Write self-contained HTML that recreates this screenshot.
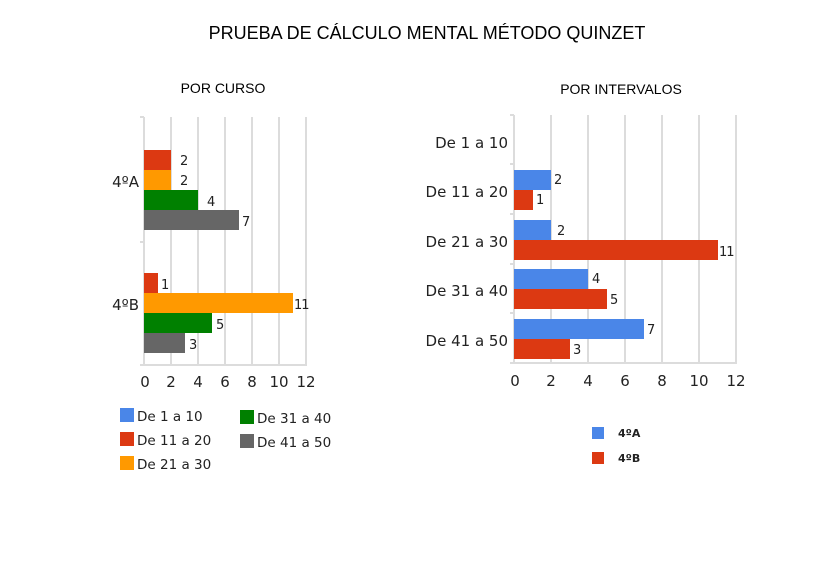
<!DOCTYPE html><html><head><style>body{margin:0;background:#fff}svg{display:block}</style></head><body>
<svg width="814" height="567" xmlns="http://www.w3.org/2000/svg" font-family="'DejaVu Sans','Liberation Sans',sans-serif">
<rect width="814" height="567" fill="#fff"/>
<text x="427" y="39" font-size="18" text-anchor="middle" font-family="'Liberation Sans',sans-serif">PRUEBA DE CÁLCULO MENTAL MÉTODO QUINZET</text>
<text x="223" y="93" font-size="14" text-anchor="middle" font-family="'Liberation Sans',sans-serif">POR CURSO</text>
<text x="621" y="94" font-size="14" text-anchor="middle" font-family="'Liberation Sans',sans-serif">POR INTERVALOS</text>
<g stroke="#dcdcdc" stroke-width="2">
<line x1="171" y1="117" x2="171" y2="365"/><line x1="198" y1="117" x2="198" y2="365"/><line x1="225" y1="117" x2="225" y2="365"/><line x1="252" y1="117" x2="252" y2="365"/><line x1="279" y1="117" x2="279" y2="365"/><line x1="306" y1="117" x2="306" y2="365"/>
<line x1="144" y1="117" x2="144" y2="366"/><line x1="140" y1="365" x2="307" y2="365"/><line x1="140" y1="117" x2="144" y2="117"/><line x1="140" y1="242" x2="144" y2="242"/>
<line x1="551" y1="115" x2="551" y2="363"/><line x1="588" y1="115" x2="588" y2="363"/><line x1="625" y1="115" x2="625" y2="363"/><line x1="662" y1="115" x2="662" y2="363"/><line x1="699" y1="115" x2="699" y2="363"/><line x1="736" y1="115" x2="736" y2="363"/>
<line x1="514" y1="115" x2="514" y2="364"/><line x1="510" y1="363" x2="737" y2="363"/>
<line x1="510" y1="115" x2="514" y2="115"/><line x1="510" y1="164" x2="514" y2="164"/><line x1="510" y1="214" x2="514" y2="214"/><line x1="510" y1="264" x2="514" y2="264"/><line x1="510" y1="313" x2="514" y2="313"/>
</g>
<rect x="144" y="150" width="27" height="20" fill="#dc3912"/>
<rect x="144" y="170" width="27" height="20" fill="#ff9900"/>
<rect x="144" y="190" width="54" height="20" fill="#008000"/>
<rect x="144" y="210" width="95" height="20" fill="#666"/>
<rect x="144" y="273" width="14" height="20" fill="#dc3912"/>
<rect x="144" y="293" width="149" height="20" fill="#ff9900"/>
<rect x="144" y="313" width="68" height="20" fill="#008000"/>
<rect x="144" y="333" width="41" height="20" fill="#666"/>
<g font-size="13" fill="#222">
<text x="180" y="165">2</text><text x="180" y="185">2</text><text x="207" y="206">4</text><text x="242" y="226">7</text>
<text x="161" y="289">1</text><text x="294" y="309" letter-spacing="-1">11</text><text x="216" y="329">5</text><text x="189" y="349">3</text>
</g>
<g font-size="15" fill="#222" text-anchor="end">
<text x="139" y="187">4ºA</text><text x="139" y="310">4ºB</text>
<text x="508" y="148">De 1 a 10</text><text x="508" y="197">De 11 a 20</text><text x="508" y="247">De 21 a 30</text><text x="508" y="296">De 31 a 40</text><text x="508" y="346">De 41 a 50</text>
</g>
<g font-size="15" fill="#222" text-anchor="middle">
<text x="145" y="387">0</text><text x="171" y="387">2</text><text x="198" y="387">4</text><text x="225" y="387">6</text><text x="252" y="387">8</text><text x="279" y="387">10</text><text x="306" y="387">12</text>
<text x="515" y="386">0</text><text x="551" y="386">2</text><text x="588" y="386">4</text><text x="625" y="386">6</text><text x="662" y="386">8</text><text x="699" y="386">10</text><text x="736" y="386">12</text>
</g>
<rect x="514" y="170" width="37" height="20" fill="#4a86e8"/>
<rect x="514" y="190" width="19" height="20" fill="#dc3912"/>
<rect x="514" y="220" width="37" height="20" fill="#4a86e8"/>
<rect x="514" y="240" width="204" height="20" fill="#dc3912"/>
<rect x="514" y="269" width="74" height="20" fill="#4a86e8"/>
<rect x="514" y="289" width="93" height="20" fill="#dc3912"/>
<rect x="514" y="319" width="130" height="20" fill="#4a86e8"/>
<rect x="514" y="339" width="56" height="20" fill="#dc3912"/>
<g font-size="13" fill="#222">
<text x="554" y="184">2</text><text x="536" y="204">1</text><text x="557" y="235">2</text><text x="719" y="256" letter-spacing="-1">11</text>
<text x="592" y="283">4</text><text x="610" y="304">5</text><text x="647" y="334">7</text><text x="573" y="354">3</text>
</g>
<rect x="120" y="408" width="14" height="14" fill="#4a86e8"/>
<rect x="120" y="432" width="14" height="14" fill="#dc3912"/>
<rect x="120" y="456" width="14" height="14" fill="#ff9900"/>
<rect x="240" y="410" width="14" height="14" fill="#008000"/>
<rect x="240" y="434" width="14" height="14" fill="#666"/>
<g font-size="13.5" fill="#222">
<text x="137" y="421">De 1 a 10</text><text x="137" y="445">De 11 a 20</text><text x="137" y="469">De 21 a 30</text>
<text x="257" y="423">De 31 a 40</text><text x="257" y="447">De 41 a 50</text>
</g>
<rect x="592" y="427" width="12" height="12" fill="#4a86e8"/>
<rect x="592" y="452" width="12" height="12" fill="#dc3912"/>
<g font-size="11" font-weight="bold" fill="#222"><text x="618" y="437">4ºA</text><text x="618" y="462">4ºB</text></g>
</svg>
</body></html>
